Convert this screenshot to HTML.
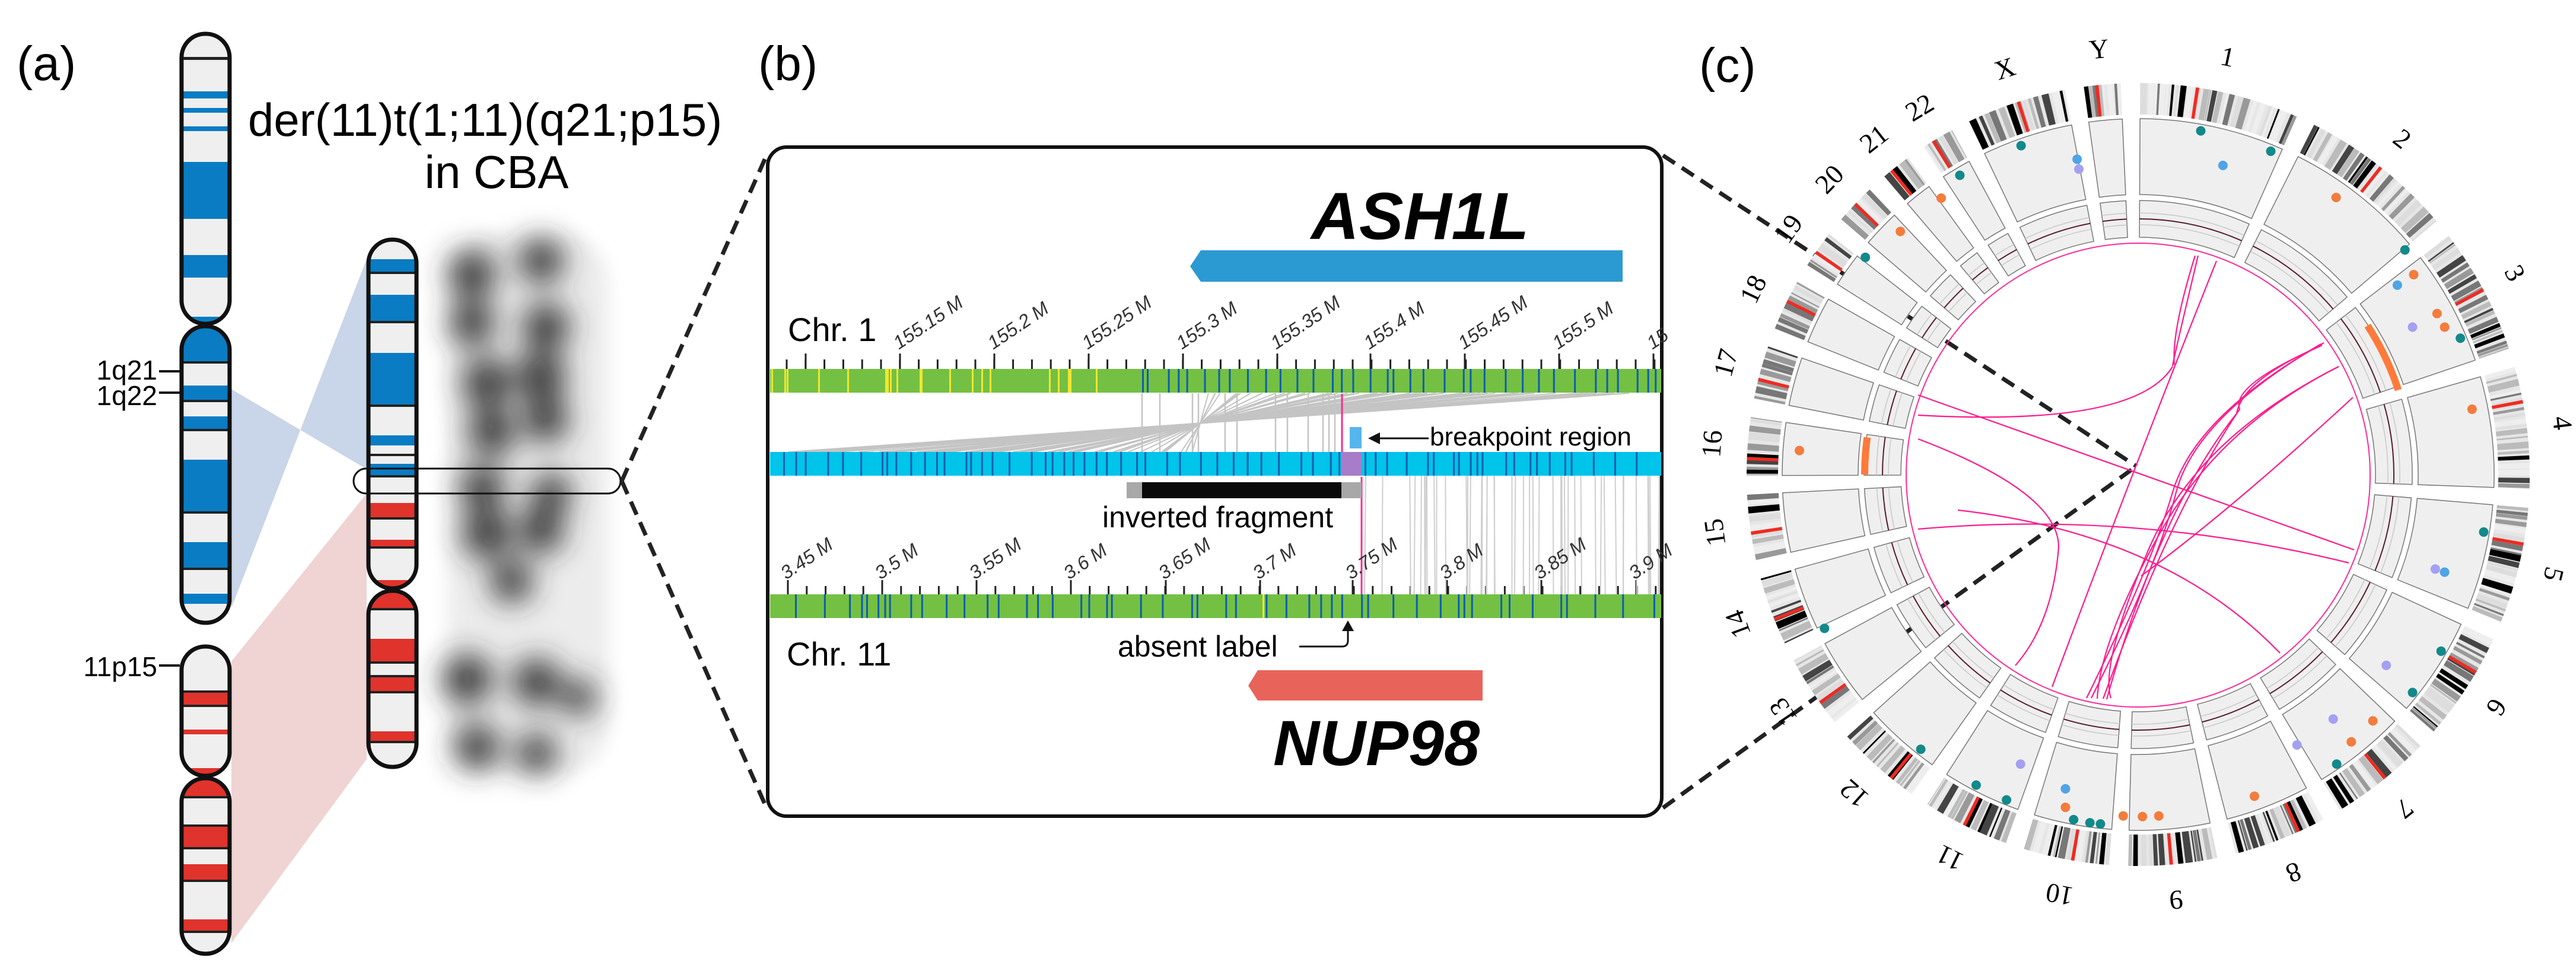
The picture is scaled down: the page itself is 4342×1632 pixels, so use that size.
<!DOCTYPE html>
<html><head><meta charset="utf-8"><style>
html,body{margin:0;padding:0;background:#fff;}
svg{display:block;}
text{font-family:"Liberation Sans",sans-serif;}
text.n{font-family:"Liberation Sans Narrow","Liberation Sans",sans-serif;}
.n text{font-family:"Liberation Sans Narrow","Liberation Sans",sans-serif;}
.s text{font-family:"Liberation Serif",serif;font-size:46px;}
</style></head><body>
<svg id="svg" width="4342" height="1632" viewBox="0 0 4342 1632" xmlns="http://www.w3.org/2000/svg">
<defs>
<filter id="bl" x="-30%" y="-30%" width="160%" height="160%"><feGaussianBlur stdDeviation="25"/></filter>
<filter id="bl2"><feGaussianBlur stdDeviation="14"/></filter>
<clipPath id="c1p"><rect x="306" y="57" width="81" height="489" rx="40"/></clipPath>
<clipPath id="c1q"><rect x="306" y="550" width="81" height="500" rx="40"/></clipPath>
<clipPath id="c11p"><rect x="306" y="1090" width="81" height="218" rx="40"/></clipPath>
<clipPath id="c11q"><rect x="306" y="1312" width="81" height="296" rx="40"/></clipPath>
<clipPath id="cdp"><rect x="621" y="404" width="81" height="588" rx="40"/></clipPath>
<clipPath id="cdq"><rect x="621" y="996" width="81" height="297" rx="40"/></clipPath>
</defs>

<text x="28" y="135" font-size="82">(a)</text>
<text x="418" y="229" font-size="78">der(11)t(1;11)(q21;p15)</text>
<text x="837" y="317" font-size="78" text-anchor="middle">in CBA</text>

<polygon points="390,656 618,791 618,437 390,1025" fill="#c9d5e8"/>
<polygon points="390,1115 618,832 618,1280 390,1590" fill="#f0d3d3"/>

<g filter="url(#bl2)"><rect x="755" y="395" width="270" height="910" fill="#ececec" rx="80"/></g>
<g filter="url(#bl)" fill="#2a2a2a" fill-opacity="0.92">
<circle cx="796" cy="462" r="40"/><circle cx="912" cy="440" r="38"/>
<circle cx="796" cy="545" r="38"/><circle cx="920" cy="551" r="40"/>
<circle cx="821" cy="645" r="42"/><circle cx="912" cy="635" r="42"/>
<circle cx="829" cy="728" r="40"/><circle cx="920" cy="708" r="38"/>
<circle cx="813" cy="822" r="38"/><circle cx="929" cy="832" r="34"/>
<circle cx="821" cy="900" r="42"/><circle cx="912" cy="895" r="38"/>
<circle cx="862" cy="980" r="36"/>
<circle cx="788" cy="1145" r="42"/><circle cx="904" cy="1150" r="40"/><circle cx="975" cy="1176" r="30"/>
<circle cx="804" cy="1259" r="38"/><circle cx="904" cy="1270" r="34"/>
</g>

<g clip-path="url(#c1p)"><rect x="300" y="50" width="95" height="500" fill="#efefef"/>
<g fill="#0a7cc4"><rect x="300" y="96" width="95" height="5" fill="#222"/><rect x="300" y="154" width="95" height="12"/><rect x="300" y="182" width="95" height="8"/><rect x="300" y="213" width="95" height="8"/><rect x="300" y="273" width="95" height="96"/><rect x="300" y="430" width="95" height="38"/><rect x="300" y="534" width="95" height="14"/></g></g>
<g clip-path="url(#c1q)"><rect x="300" y="548" width="95" height="510" fill="#efefef"/>
<g fill="#0a7cc4"><rect x="300" y="548" width="95" height="61"/><rect x="300" y="650" width="95" height="24"/><rect x="300" y="702" width="95" height="21"/><rect x="300" y="775" width="95" height="87"/><rect x="300" y="914" width="95" height="43"/><rect x="300" y="1001" width="95" height="17"/></g>
<g fill="#222"><rect x="300" y="609" width="95" height="4"/><rect x="300" y="674" width="95" height="4"/><rect x="300" y="723" width="95" height="4"/><rect x="300" y="862" width="95" height="4"/><rect x="300" y="957" width="95" height="4"/></g></g>
<rect x="306" y="57" width="81" height="489" rx="40" fill="none" stroke="#111" stroke-width="7"/>
<rect x="306" y="550" width="81" height="500" rx="40" fill="none" stroke="#111" stroke-width="7"/>

<g clip-path="url(#c11p)"><rect x="300" y="1085" width="95" height="230" fill="#efefef"/>
<g fill="#e0332c"><rect x="300" y="1168" width="95" height="20"/><rect x="300" y="1230" width="95" height="8"/><rect x="300" y="1295" width="95" height="14"/></g>
<g fill="#222"><rect x="300" y="1164" width="95" height="4"/><rect x="300" y="1188" width="95" height="4"/></g></g>
<g clip-path="url(#c11q)"><rect x="300" y="1310" width="95" height="305" fill="#efefef"/>
<g fill="#e0332c"><rect x="300" y="1310" width="95" height="32"/><rect x="300" y="1394" width="95" height="34"/><rect x="300" y="1457" width="95" height="26"/><rect x="300" y="1550" width="95" height="19"/></g>
<g fill="#222"><rect x="300" y="1342" width="95" height="4"/><rect x="300" y="1390" width="95" height="4"/><rect x="300" y="1428" width="95" height="4"/><rect x="300" y="1483" width="95" height="4"/><rect x="300" y="1569" width="95" height="4"/></g></g>
<rect x="306" y="1090" width="81" height="218" rx="40" fill="none" stroke="#111" stroke-width="7"/>
<rect x="306" y="1312" width="81" height="296" rx="40" fill="none" stroke="#111" stroke-width="7"/>

<g clip-path="url(#cdp)"><rect x="615" y="400" width="95" height="595" fill="#efefef"/>
<g fill="#0a7cc4"><rect x="615" y="437" width="95" height="21"/><rect x="615" y="497" width="95" height="44"/><rect x="615" y="595" width="95" height="87"/><rect x="615" y="734" width="95" height="17"/><rect x="615" y="782" width="95" height="19"/></g>
<g fill="#e0332c"><rect x="615" y="848" width="95" height="24"/><rect x="615" y="910" width="95" height="11"/><rect x="615" y="978" width="95" height="14"/></g>
<g fill="#222"><rect x="615" y="458" width="95" height="4"/><rect x="615" y="541" width="95" height="4"/><rect x="615" y="682" width="95" height="4"/><rect x="615" y="765" width="95" height="4"/><rect x="615" y="801" width="95" height="4"/><rect x="615" y="872" width="95" height="4"/><rect x="615" y="921" width="95" height="4"/></g></g>
<g clip-path="url(#cdq)"><rect x="615" y="992" width="95" height="305" fill="#efefef"/>
<g fill="#e0332c"><rect x="615" y="994" width="95" height="31"/><rect x="615" y="1077" width="95" height="38"/><rect x="615" y="1142" width="95" height="23"/><rect x="615" y="1233" width="95" height="16"/></g>
<g fill="#222"><rect x="615" y="1025" width="95" height="4"/><rect x="615" y="1115" width="95" height="4"/><rect x="615" y="1138" width="95" height="4"/><rect x="615" y="1165" width="95" height="4"/><rect x="615" y="1249" width="95" height="4"/></g></g>
<rect x="621" y="404" width="81" height="588" rx="40" fill="none" stroke="#111" stroke-width="7"/>
<rect x="621" y="996" width="81" height="297" rx="40" fill="none" stroke="#111" stroke-width="7"/>

<text x="265" y="640" font-size="46" text-anchor="end">1q21</text>
<text x="265" y="683" font-size="46" text-anchor="end">1q22</text>
<text x="265" y="1140" font-size="46" text-anchor="end">11p15</text>
<g stroke="#111" stroke-width="4"><line x1="268" y1="626" x2="303" y2="626"/><line x1="268" y1="662" x2="303" y2="662"/><line x1="268" y1="1122" x2="303" y2="1122"/></g>

<rect x="596" y="790" width="450" height="42" rx="21" fill="none" stroke="#111" stroke-width="3"/>
<g stroke="#222" stroke-width="7" stroke-dasharray="24 14" fill="none">
<line x1="1048" y1="811" x2="1292" y2="262"/><line x1="1048" y1="811" x2="1292" y2="1362"/>
<line x1="2803" y1="262" x2="3601" y2="786"/><line x1="2803" y1="1362" x2="3601" y2="786"/>
</g>

<text x="1278" y="135" font-size="82">(b)</text>
<rect x="1294" y="248" width="1507" height="1128" rx="32" fill="#fff" stroke="#111" stroke-width="6"/>
<text x="2210" y="403" font-size="112" font-weight="bold" font-style="italic" class="n">ASH1L</text>
<polygon points="2006,449 2024,422 2735,422 2735,475 2024,475" fill="#2b9ad2"/>
<text x="1328" y="575" font-size="56" class="n">Chr. 1</text>
<g id="tk1"></g>
<g font-size="32" font-style="italic" class="n" fill="#333">
<text transform="translate(1515,590) rotate(-34)">155.15 M</text>
<text transform="translate(1674,590) rotate(-34)">155.2 M</text>
<text transform="translate(1833,590) rotate(-34)">155.25 M</text>
<text transform="translate(1992,590) rotate(-34)">155.3 M</text>
<text transform="translate(2151,590) rotate(-34)">155.35 M</text>
<text transform="translate(2308,590) rotate(-34)">155.4 M</text>
<text transform="translate(2467,590) rotate(-34)">155.45 M</text>
<text transform="translate(2626,590) rotate(-34)">155.5 M</text>
<text transform="translate(2785,590) rotate(-34)">15</text>
</g>
<g id="gl"></g>
<rect x="1298" y="622" width="1502" height="40" fill="#74c043"/>
<g id="bs1"></g>
<rect x="1298" y="762" width="1502" height="40" fill="#00c4ea"/>
<g id="bs2"></g>
<rect x="2261" y="762" width="34" height="40" fill="#a77cc9"/>
<rect x="2275" y="720" width="20" height="36" fill="#55b6ee"/>
<line x1="2262" y1="664" x2="2262" y2="762" stroke="#ff2a8a" stroke-width="3"/>
<line x1="2295" y1="804" x2="2295" y2="1002" stroke="#ff2a8a" stroke-width="3"/>
<line x1="2312" y1="739" x2="2408" y2="739" stroke="#111" stroke-width="3"/>
<polygon points="2306,739 2326,729 2326,749" fill="#111"/>
<text x="2410" y="751" font-size="44" class="n">breakpoint region</text>
<rect x="1899" y="813" width="396" height="27" fill="#a8a8a8"/>
<rect x="1925" y="813" width="336" height="27" fill="#0a0a0a"/>
<text x="1858" y="889" font-size="50" class="n">inverted fragment</text>
<g font-size="32" font-style="italic" class="n" fill="#333">
<text transform="translate(1325,978) rotate(-34)">3.45 M</text>
<text transform="translate(1484,978) rotate(-34)">3.5 M</text>
<text transform="translate(1643,978) rotate(-34)">3.55 M</text>
<text transform="translate(1802,978) rotate(-34)">3.6 M</text>
<text transform="translate(1962,978) rotate(-34)">3.65 M</text>
<text transform="translate(2121,978) rotate(-34)">3.7 M</text>
<text transform="translate(2277,978) rotate(-34)">3.75 M</text>
<text transform="translate(2436,978) rotate(-34)">3.8 M</text>
<text transform="translate(2595,978) rotate(-34)">3.85 M</text>
<text transform="translate(2755,978) rotate(-34)">3.9 M</text>
</g>
<rect x="1298" y="1002" width="1502" height="40" fill="#74c043"/>
<g id="bs3"></g>
<text x="1326" y="1122" font-size="56" class="n">Chr. 11</text>
<text x="1884" y="1107" font-size="50" class="n">absent label</text>
<path d="M2190,1090 L2262,1090 Q2272,1090 2272,1080 L2272,1055" fill="none" stroke="#111" stroke-width="3"/>
<polygon points="2272,1046 2262,1064 2282,1064" fill="#111"/>
<polygon points="2104,1156 2120,1130 2499,1130 2499,1181 2120,1181" fill="#e8645a"/>
<text x="2146" y="1290" font-size="108" font-weight="bold" font-style="italic" class="n">NUP98</text>

<text x="2864" y="138" font-size="82">(c)</text>
<g id="circ"></g>
<circle cx="3604" cy="801" r="391" fill="none" stroke="#ff2a9a" stroke-width="2"/>
<g id="links" fill="none" stroke="#ff1a8c" stroke-width="2.2">
<path d="M3917,578 Q3700,700 3662,830 T3517,1177"/>
<path d="M3912,580 Q3700,705 3668,830 T3525,1177"/>
<path d="M3914,582 Q3780,640 3770,697 Q3640,860 3551,1179"/>
<path d="M3910,584 Q3760,650 3775,690 Q3660,860 3545,1178"/>
<path d="M3942,618 Q3700,740 3620,930 T3558,1177"/>
<path d="M3942,618 Q3740,720 3640,900 T3535,1178"/>
<path d="M3736,440 Q3600,780 3459,1158"/>
<path d="M3705,431 Q3660,620 3662,618 Q3600,720 3233,700"/>
<path d="M3700,431 Q3660,560 3665,615"/>
<path d="M3233,666 L3968,927"/>
<path d="M3233,892 Q3600,860 3959,949"/>
<path d="M3233,740 Q3470,830 3470,922 Q3460,1050 3397,1122"/>
<path d="M3609,971 Q3760,860 3966,670"/>
<path d="M3300,860 Q3650,900 3843,1101"/>
</g>
<g id="lab" class="s" text-anchor="middle"></g>
</svg>
<script>
(function(){
var NS="http://www.w3.org/2000/svg";
function el(t,a,p){var e=document.createElementNS(NS,t);for(var k in a)e.setAttribute(k,a[k]);(p||document.getElementById('svg')).appendChild(e);return e;}
var seed=7;function rnd(){seed=(seed*16807)%2147483647;return seed/2147483647;}
var tk=document.getElementById('tk1');
for(var x=1326;x<2800;x+=31.8){el('line',{x1:x,y1:606,x2:x,y2:622,stroke:'#222','stroke-width':3},tk);}
[1358,1517,1676,1835,1994,2153,2310,2469,2628,2787].forEach(function(x){el('line',{x1:x,y1:596,x2:x,y2:622,stroke:'#222','stroke-width':3},tk);});
for(var x=1328;x<2800;x+=31.8){el('line',{x1:x,y1:988,x2:x,y2:1002,stroke:'#222','stroke-width':3},tk);}
[1328,1487,1646,1805,1965,2124,2280,2439,2598,2758].forEach(function(x){el('line',{x1:x,y1:978,x2:x,y2:1002,stroke:'#222','stroke-width':3},tk);});
var b1=document.getElementById('bs1');
[1300,1322,1326,1379,1428,1492,1495,1500,1511,1550,1552,1600,1638,1654,1668,1768,1783,1800,1803,1847].forEach(function(x){el('rect',{x:x,y:622,width:3,height:40,fill:'#f2e630'},b1);});
for(var x=1925;x<2800;x+=8+rnd()*30){el('rect',{x:x,y:622,width:3,height:40,fill:'#0b5fae'},b1);}
var b2=document.getElementById('bs2');
for(var x=1320;x<2790;x+=6+rnd()*34){el('rect',{x:x,y:762,width:3,height:40,fill:'#0b5fae'},b2);}
var b3=document.getElementById('bs3');
for(var x=1340;x<2790;x+=8+rnd()*45){el('rect',{x:x,y:1002,width:3,height:40,fill:'#0b5fae'},b3);}
el('rect',{x:2128,y:1002,width:3,height:40,fill:'#f2e630'},b3);
var gl=document.getElementById('gl');
for(var i=0;i<70;i++){var xt=2030+rnd()*720;var xb=2023-(xt-2023)*0.96;if(xb<1300)xb=1300+rnd()*20;
el('line',{x1:xt,y1:663,x2:xb,y2:762,stroke:'#c4c4c4','stroke-width':2},gl);}
[1925,1955,2010,2020,2065,2085,2150,2170,2205,2230,2240,2250].forEach(function(x){el('line',{x1:x,y1:663,x2:x,y2:762,stroke:'#c4c4c4','stroke-width':2.5},gl);});
for(var i=0;i<45;i++){var x=2300+rnd()*500;el('line',{x1:x,y1:802,x2:x+(rnd()-0.5)*4,y2:1002,stroke:'#cfcfcf','stroke-width':2},gl);}
var C=document.getElementById('circ'),cx=3604,cy=800;
function pt(r,a){a=a*Math.PI/180;return [cx+r*Math.sin(a),cy-r*Math.cos(a)];}
function arc(r1,r2,a1,a2,attrs,par){var p1=pt(r2,a1),p2=pt(r2,a2),p3=pt(r1,a2),p4=pt(r1,a1);var lg=(a2-a1)>180?1:0;
var d='M'+p1+' A'+r2+','+r2+' 0 '+lg+' 1 '+p2+' L'+p3+' A'+r1+','+r1+' 0 '+lg+' 0 '+p4+'Z';attrs.d=d;return el('path',attrs,par||C);}
var L=[248.9,242.2,198.3,190.2,181.5,170.8,159.3,145.1,138.4,133.8,135.1,133.3,114.4,107.0,102.0,90.3,83.3,80.4,58.6,64.4,46.7,50.8,156.0,57.2];
var names=['1','2','3','4','5','6','7','8','9','10','11','12','13','14','15','16','17','18','19','20','21','22','X','Y'];
var s=0.0948,g=2.8,a=0.3,lab=document.getElementById('lab');
var grays=['#000','#444','#777','#999','#bbb','#ddd','#eee'];
for(var i=0;i<24;i++){var w=L[i]*s,a1=a,a2=a+w,mid=(a1+a2)/2;
 arc(607,660,a1,a2,{fill:'#e6e6e6'});
 var b=a1;while(b<a2){var bw=0.2+rnd()*0.9;if(b+bw>a2)bw=a2-b;var c=grays[Math.floor(rnd()*7)];arc(607,660,b,b+bw,{fill:c});b+=bw+rnd()*0.6;}
 var cen=a1+w*(0.25+rnd()*0.3);arc(607,660,cen,cen+0.5,{fill:'#ee2b22'});
 arc(472,600,a1,a2,{fill:'#efefef',stroke:'#777','stroke-width':1.5});
 arc(400,462,a1,a2,{fill:'#efefef',stroke:'#777','stroke-width':1.5});
 [421,441].forEach(function(r){var p=pt(r,a1),q=pt(r,a2);el('path',{d:'M'+p+' A'+r+','+r+' 0 0 1 '+q,fill:'none',stroke:'#c8c8c8','stroke-width':1.5},C);});
 var p=pt(431,a1),q=pt(431,a2);el('path',{d:'M'+p+' A431,431 0 0 1 '+q,fill:'none',stroke:'#5a1a2a','stroke-width':2},C);
 var t=el('text',{x:cx,y:cy-705,transform:'rotate('+mid.toFixed(2)+' '+cx+' '+cy+')'},lab);t.textContent=names[i];
 a=a2+g;}
arc(455,467,57,72,{fill:'#ff7a3a'});arc(455,467,270,277.8,{fill:'#ff7a3a'});
function dots(list,col){list.forEach(function(d){el('circle',{cx:2800+d[0]/1.017,cy:d[1]/0.961,r:8,fill:col},C);});}
dots([[925,212],[1045,245],[1275,405],[1370,548],[1410,862],[1337,1055],[1288,1122],[1158,1238],[735,1333],[753,1335],[707,1328],[592,1296],[540,1272],[445,1214],[280,1018],[350,417],[512,284],[617,236]],'#12898a');
dots([[1157,320],[1290,445],[1330,508],[1343,530],[1390,663],[1220,1168],[1183,1202],[1017,1290],[853,1322],[825,1323],[792,1322],[693,1308],[237,730],[410,375],[480,321]],'#f47c3c');
dots([[963,268],[1262,462],[1343,927],[693,1278],[713,258]],'#4ea4e6');
dots([[1288,530],[1327,922],[1243,1078],[1152,1165],[1090,1207],[616,1238],[716,274]],'#a4a0f2');
})();
</script>
</body></html>
